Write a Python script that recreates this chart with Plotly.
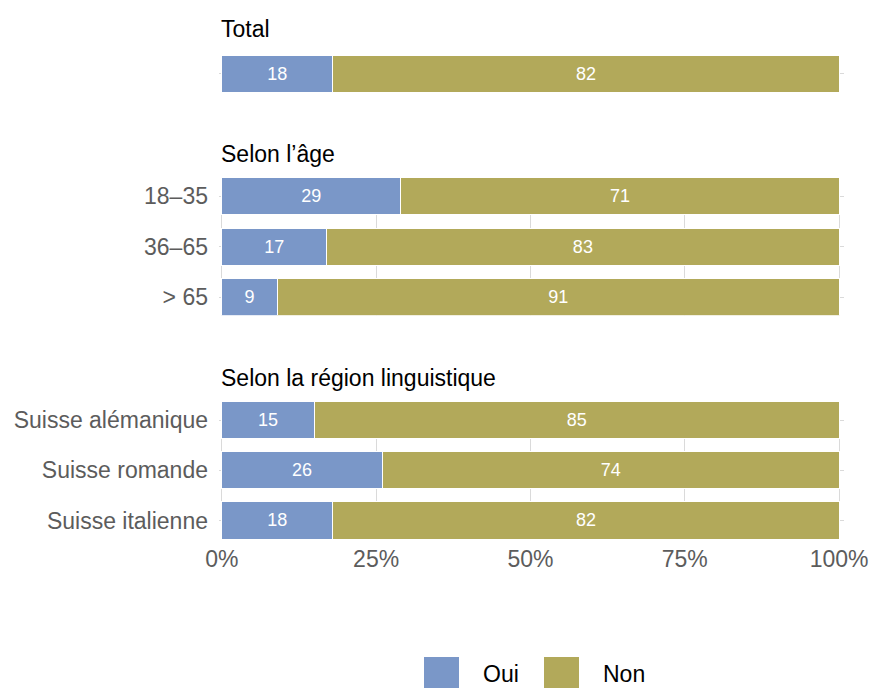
import plotly.graph_objects as go

# ---- data ----
total_categories = ["Total"]
total_oui = [18]
total_non = [82]

age_categories = ["18–35", "36–65", "> 65"]
age_oui = [29, 17, 9]
age_non = [71, 83, 91]

region_categories = ["Suisse alémanique", "Suisse romande", "Suisse italienne"]
region_oui = [15, 26, 18]
region_non = [85, 74, 82]

panel_titles = ["Total", "Selon l’âge", "Selon la région linguistique"]
series_names = ["Oui", "Non"]
series_colors = ["#7A97C8", "#B2A95A"]
x_tickvals = [0, 25, 50, 75, 100]
x_ticktext = ["0%", "25%", "50%", "75%", "100%"]

# ---- layout constants (pixels) ----
W, H = 869, 688
FONT = "Liberation Sans, Arial, Helvetica, sans-serif"
GRID = "#DADADA"
TICKCOL = "#5C5C5C"
BAR_W = 0.74
HALF = BAR_W / 2

def px_x(p):
    return p / W

def px_y(p):
    return 1 - p / H

x_domain = [px_x(219), px_x(844)]
x_range = [-0.45, 100.8]
panels_px = [(55, 92), (177.7, 315.7), (401.7, 539)]
title_px = [29.4, 154, 378]

panels = [
    (total_categories, total_oui, total_non),
    (age_categories, age_oui, age_non),
    (region_categories, region_oui, region_non),
]

fig = go.Figure()
layout = dict(
    template="none",
    width=W, height=H,
    margin=dict(l=0, r=0, t=0, b=0, pad=0),
    paper_bgcolor="white", plot_bgcolor="white",
    barmode="stack",
    showlegend=False,
    font=dict(family=FONT, size=23, color=TICKCOL),
)

annotations = []
shapes = []

for i, (cats, oui, non) in enumerate(panels):
    n = i + 1
    xa = "x" if n == 1 else f"x{n}"
    ya = "y" if n == 1 else f"y{n}"
    for vals, name, col in zip([oui, non], series_names, series_colors):
        fig.add_trace(go.Bar(
            x=vals, y=cats, orientation="h", name=name,
            marker=dict(color=col, line=dict(color="white", width=1)),
            width=BAR_W,
            text=[str(v) for v in vals], textposition="inside",
            insidetextanchor="middle", constraintext="none",
            textfont=dict(color="white", size=18, family=FONT),
            hoverinfo="skip", xaxis=xa, yaxis=ya, showlegend=False,
            cliponaxis=False,
        ))
    top, bot = panels_px[i]
    layout["xaxis" if n == 1 else f"xaxis{n}"] = dict(
        domain=x_domain, anchor=ya, range=x_range, automargin=False,
        tickvals=x_tickvals, ticktext=x_ticktext,
        showticklabels=(n == 3), showgrid=True, gridcolor=GRID, gridwidth=1,
        zeroline=False, showline=False, ticks="", ticklabelstandoff=4,
        tickfont=dict(size=23, color=TICKCOL, family=FONT),
        matches=None if n == 1 else "x",
    )
    layout["yaxis" if n == 1 else f"yaxis{n}"] = dict(
        domain=[px_y(bot), px_y(top)], anchor=xa, automargin=False,
        type="category", categoryorder="array", categoryarray=cats,
        range=[len(cats) - 1 + HALF, -HALF],
        showticklabels=(n != 1), showgrid=True, gridcolor=GRID, gridwidth=1,
        zeroline=False, showline=False, ticks="", ticklabelstandoff=10,
        tickfont=dict(size=23, color=TICKCOL, family=FONT),
    )
    annotations.append(dict(
        text=panel_titles[i], xref="paper", yref="paper",
        x=px_x(219), y=px_y(title_px[i]), xanchor="left", yanchor="middle",
        showarrow=False, font=dict(size=23, color="black", family=FONT),
    ))

# legend (keys drawn as shapes at bottom)
legend_items = [(424, 483), (544, 603)]
for (kx, tx), name, col in zip(legend_items, series_names, series_colors):
    shapes.append(dict(
        type="rect", xref="paper", yref="paper",
        x0=px_x(kx), x1=px_x(kx + 35), y0=px_y(692), y1=px_y(657),
        fillcolor=col, line=dict(width=0),
    ))
    annotations.append(dict(
        text=name, xref="paper", yref="paper",
        x=px_x(tx - 2), y=px_y(674), xanchor="left", yanchor="middle",
        showarrow=False, font=dict(size=23, color="black", family=FONT),
    ))

layout["annotations"] = annotations
layout["shapes"] = shapes
fig.update_layout(**layout)
fig.write_html(
    "out.html",
    config={"displayModeBar": False},
    post_script="document.body.style.margin='0';document.body.style.overflow='hidden';",
)
